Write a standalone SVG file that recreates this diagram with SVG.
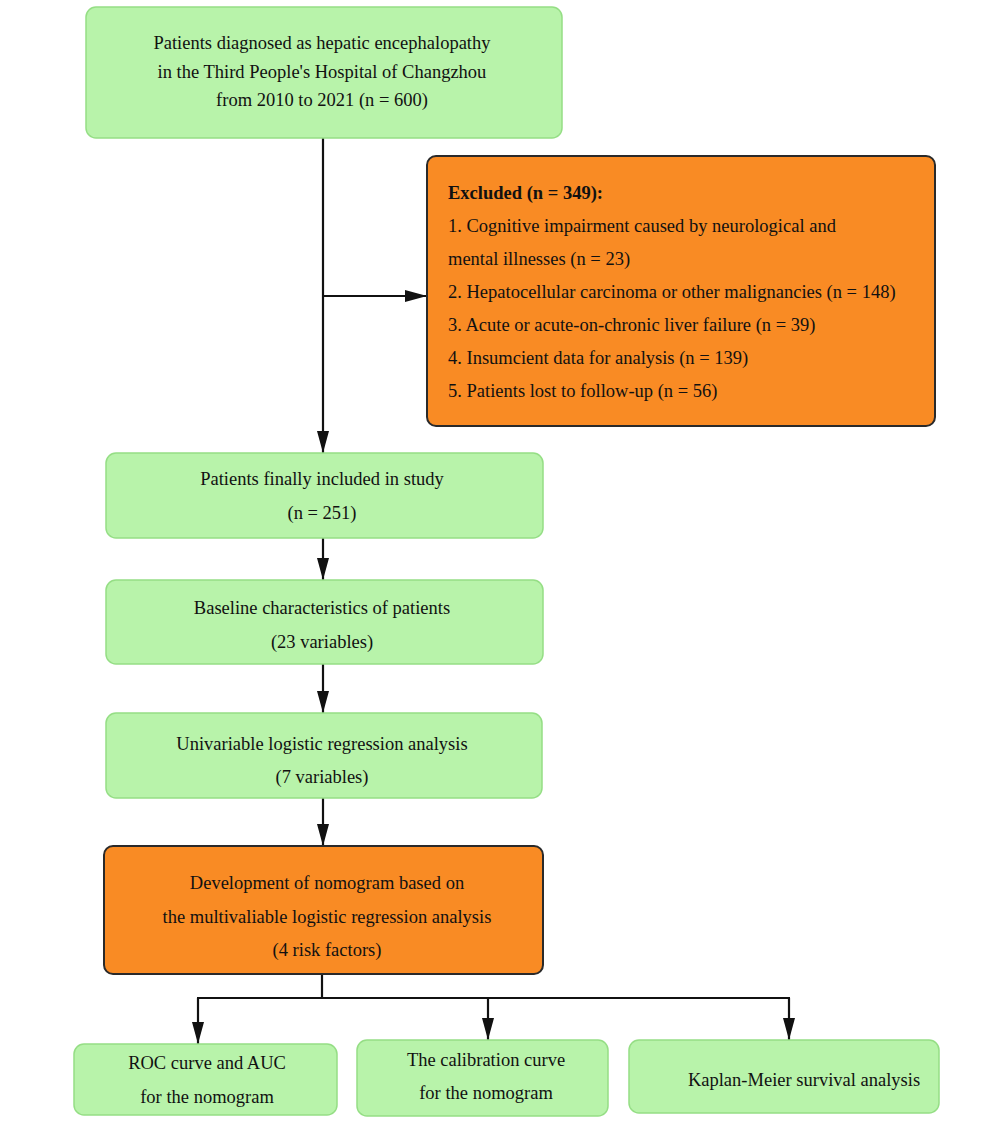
<svg xmlns="http://www.w3.org/2000/svg" width="1000" height="1126" viewBox="0 0 1000 1126">
<defs>
<marker id="ah" viewBox="0 0 22 14" refX="22" refY="7" markerWidth="22" markerHeight="14" markerUnits="userSpaceOnUse" orient="auto">
<path d="M0,1 L22,7 L0,13 Z" fill="#111"/>
</marker>
<style>
.g{fill:#b8f3aa;stroke:#95de85;stroke-width:1.5}
.o{fill:#f98b24;stroke:#2a2a2a;stroke-width:2}
text{font-family:"Liberation Serif","Times New Roman",serif;font-size:18.5px;fill:#111}
.c{text-anchor:middle}
.ln{fill:none;stroke:#111;stroke-width:2.2}
.b{font-weight:bold}
</style>
</defs>
<rect width="1000" height="1126" fill="#fff"/>
<g id="connectors">
<path class="ln" d="M323,138 V453" marker-end="url(#ah)"/>
<path class="ln" d="M323,296 H427" marker-end="url(#ah)"/>
<path class="ln" d="M323,538 V580" marker-end="url(#ah)"/>
<path class="ln" d="M323,664 V713" marker-end="url(#ah)"/>
<path class="ln" d="M323,798 V846" marker-end="url(#ah)"/>
<path class="ln" d="M322,974 V998"/>
<path class="ln" d="M197,998 H790"/>
<path class="ln" d="M198,998 V1044" marker-end="url(#ah)"/>
<path class="ln" d="M488,998 V1040" marker-end="url(#ah)"/>
<path class="ln" d="M789,998 V1040" marker-end="url(#ah)"/>
</g>
<g id="n1">
<rect class="g" x="86" y="7" width="476" height="131" rx="10"/>
<text class="c" x="322" y="49">Patients diagnosed as hepatic encephalopathy</text>
<text class="c" x="322" y="78">in the Third People's Hospital of Changzhou</text>
<text class="c" x="322" y="106">from 2010 to 2021 (n = 600)</text>
</g>
<g id="n2">
<rect class="o" x="427" y="156" width="508" height="270" rx="9"/>
<text class="b" x="448" y="199">Excluded (n = 349):</text>
<text x="448" y="232">1. Cognitive impairment caused by neurological and</text>
<text x="448" y="265">mental illnesses (n = 23)</text>
<text x="448" y="298">2. Hepatocellular carcinoma or other malignancies (n = 148)</text>
<text x="448" y="331">3. Acute or acute-on-chronic liver failure (n = 39)</text>
<text x="448" y="364">4. Insumcient data for analysis (n = 139)</text>
<text x="448" y="397">5. Patients lost to follow-up (n = 56)</text>
</g>
<g id="n3">
<rect class="g" x="106" y="453" width="437" height="85" rx="10"/>
<text class="c" x="322" y="485">Patients finally included in study</text>
<text class="c" x="322" y="519">(n = 251)</text>
</g>
<g id="n4">
<rect class="g" x="106" y="580" width="437" height="84" rx="10"/>
<text class="c" x="322" y="614">Baseline characteristics of patients</text>
<text class="c" x="322" y="648">(23 variables)</text>
</g>
<g id="n5">
<rect class="g" x="106" y="713" width="436" height="85" rx="10"/>
<text class="c" x="322" y="750">Univariable logistic regression analysis</text>
<text class="c" x="322" y="783">(7 variables)</text>
</g>
<g id="n6">
<rect class="o" x="104" y="846" width="439" height="128" rx="9"/>
<text class="c" x="327" y="889">Development of nomogram based on</text>
<text class="c" x="327" y="923">the multivaliable logistic regression analysis</text>
<text class="c" x="327" y="956">(4 risk factors)</text>
</g>
<g id="n7">
<rect class="g" x="74" y="1044" width="263" height="71" rx="10"/>
<text class="c" x="207" y="1069">ROC curve and AUC</text>
<text class="c" x="207" y="1103">for the nomogram</text>
</g>
<g id="n8">
<rect class="g" x="357" y="1040" width="251" height="76" rx="10"/>
<text class="c" x="486" y="1066">The calibration curve</text>
<text class="c" x="486" y="1099">for the nomogram</text>
</g>
<g id="n9">
<rect class="g" x="629" y="1040" width="310" height="73" rx="10"/>
<text class="c" x="804" y="1086">Kaplan-Meier survival analysis</text>
</g>
</svg>
